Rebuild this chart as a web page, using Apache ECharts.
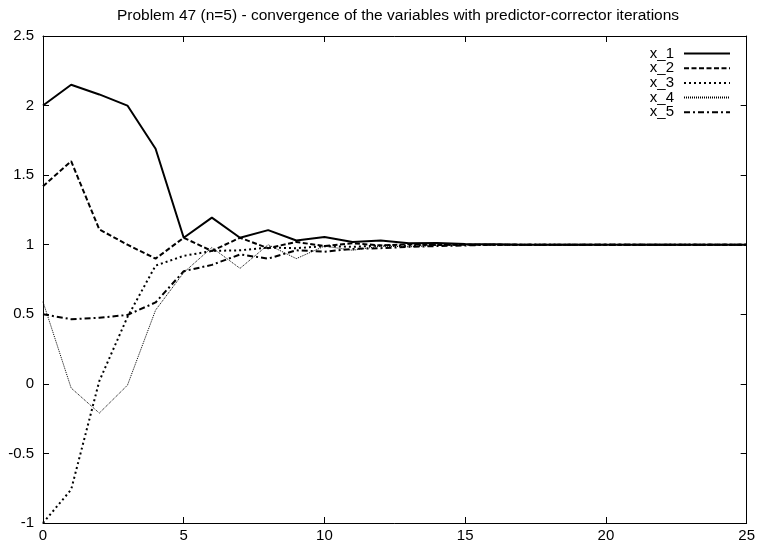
<!DOCTYPE html>
<html>
<head>
<meta charset="utf-8">
<script src="https://cdn.jsdelivr.net/npm/echarts@6/dist/echarts.min.js"></script>
<style>html,body{margin:0;padding:0;background:#fff}#c{width:758px;height:547px}</style>
</head>
<body>
<div id="c"></div>
<script>
const titleText = "Problem 47 (n=5) - convergence of the variables with predictor-corrector iterations";
const iterations = [0,1,2,3,4,5,6,7,8,9,10,11,12,13,14,15,16,17,18,19,20,21,22,23,24,25];
const x1 = [2.0, 2.15, 2.08, 2.0, 1.69, 1.05, 1.195, 1.05, 1.105, 1.03, 1.055, 1.02, 1.03, 1.01, 1.012, 1.005, 1.003, 1.0, 1.0, 1.0, 1.0, 1.0, 1.0, 1.0, 1.0, 1.0];
const x2 = [1.42, 1.6, 1.11, 1.0, 0.9, 1.05, 0.955, 1.05, 0.975, 1.02, 0.99, 1.01, 0.995, 1.003, 0.998, 1.0, 1.0, 1.0, 1.0, 1.0, 1.0, 1.0, 1.0, 1.0, 1.0, 1.0];
const x3 = [-1.0, -0.76, 0.02, 0.48, 0.85, 0.92, 0.955, 0.96, 0.98, 0.975, 0.99, 0.985, 0.995, 0.995, 1.0, 1.0, 1.0, 1.0, 1.0, 1.0, 1.0, 1.0, 1.0, 1.0, 1.0, 1.0];
const x4 = [0.59, -0.03, -0.21, -0.01, 0.53, 0.8, 0.98, 0.83, 1.0, 0.9, 0.99, 0.96, 0.99, 0.985, 0.995, 1.0, 1.0, 1.0, 1.0, 1.0, 1.0, 1.0, 1.0, 1.0, 1.0, 1.0];
const x5 = [0.5, 0.465, 0.475, 0.495, 0.585, 0.81, 0.855, 0.93, 0.9, 0.96, 0.95, 0.97, 0.975, 0.985, 0.99, 0.995, 1.0, 1.0, 1.0, 1.0, 1.0, 1.0, 1.0, 1.0, 1.0, 1.0];
const seriesNames = ["x_1", "x_2", "x_3", "x_4", "x_5"];
const seriesValues = [x1, x2, x3, x4, x5];

const styles = [
  {width: 2, type: 'solid'},
  {width: 2, type: [5, 2.5]},
  {width: 2, type: [2, 3]},
  {width: 1, type: [1, 1]},
  {width: 2, type: [6, 3, 2, 3]}
];

const font = 'Liberation Sans';
const fs = 15;
const chart = echarts.init(document.getElementById('c'), null, {renderer: 'canvas'});
const axisCommon = {
  axisLine: {show: true, onZero: false, lineStyle: {color: '#000', width: 1}},
  axisTick: {show: true, inside: true, length: 6, lineStyle: {color: '#000', width: 1}},
  splitLine: {show: false}
};
chart.setOption({
  animation: false,
  backgroundColor: '#fff',
  title: {
    text: titleText, left: 393, top: 3, textAlign: 'center',
    textStyle: {fontFamily: font, fontSize: 15.5, fontWeight: 'normal', color: '#000'}
  },
  legend: {
    orient: 'vertical', right: 22, top: 41, align: 'right',
    itemWidth: 46, itemHeight: 10, itemGap: -0.3,
    itemStyle: {color: 'rgba(0,0,0,0)', borderWidth: 0, opacity: 0},
    textStyle: {fontFamily: font, fontSize: fs, lineHeight: 14, color: '#000', padding: [0, 5, 0, 0]},
    data: seriesNames
  },
  grid: {left: 43, right: 10, top: 36, bottom: 24, containLabel: false},
  xAxis: [
    Object.assign({type: 'value', min: 0, max: 25, interval: 5, position: 'bottom',
      axisLabel: {fontFamily: font, fontSize: fs, color: '#000', margin: 5}}, axisCommon),
    Object.assign({type: 'value', min: 0, max: 25, interval: 5, position: 'top',
      axisLabel: {show: false}}, axisCommon)
  ],
  yAxis: [
    Object.assign({type: 'value', min: -1, max: 2.5, interval: 0.5, position: 'left',
      axisLabel: {fontFamily: font, fontSize: fs, color: '#000', margin: 9}}, axisCommon),
    Object.assign({type: 'value', min: -1, max: 2.5, interval: 0.5, position: 'right',
      axisLabel: {show: false}}, axisCommon)
  ],
  series: seriesNames.map((name, i) => ({
    name: name,
    type: 'line',
    symbol: 'none',
    xAxisIndex: 0, yAxisIndex: 0,
    color: '#000',
    lineStyle: {color: '#000', width: styles[i].width, type: styles[i].type},
    data: iterations.map((x, j) => [x, seriesValues[i][j]])
  }))
});
</script>
</body>
</html>
